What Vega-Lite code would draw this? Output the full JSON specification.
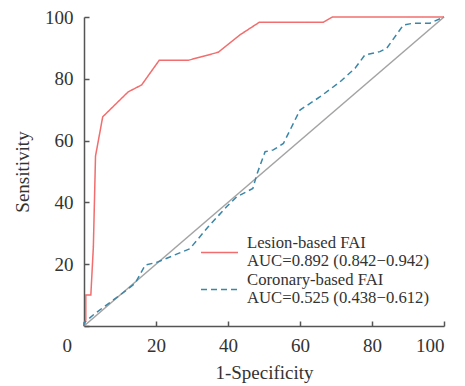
{
  "$schema": "https://vega.github.io/schema/vega-lite/v6.json",
  "width": 360,
  "height": 309,
  "autosize": "none",
  "padding": {"left": 84, "top": 17, "right": 21, "bottom": 60},
  "background": "white",
  "config": {
    "view": {"stroke": null},
    "font": "Liberation Serif, Times New Roman, DejaVu Serif, serif",
    "style": {
      "guide-label": {"font": "Liberation Serif", "fontSize": 19, "fill": "#333333"},
      "guide-title": {"font": "Liberation Serif", "fontSize": 19, "fill": "#333333"}
    },
    "axis": {
      "grid": false,
      "domainColor": "#555555",
      "domainWidth": 1.5,
      "tickColor": "#555555",
      "tickWidth": 1.5,
      "tickSize": -5,
      "labelFont": "Liberation Serif",
      "labelFontSize": 19,
      "labelColor": "#333333",
      "titleFont": "Liberation Serif",
      "titleFontSize": 19,
      "titleFontWeight": "normal",
      "titleColor": "#333333"
    },
    "axisX": {"labelFontSize": 19},
    "axisY": {"labelFontSize": 19},
    "legend": {
      "labelFont": "Liberation Serif"
    }
  },
  "datasets": {
    "roc": [
      {"series": "Lesion-based FAI", "i": 0, "fpr": 0, "tpr": 0},
      {"series": "Lesion-based FAI", "i": 1, "fpr": 0.5, "tpr": 2},
      {"series": "Lesion-based FAI", "i": 2, "fpr": 0.5, "tpr": 10},
      {"series": "Lesion-based FAI", "i": 3, "fpr": 1.9, "tpr": 10},
      {"series": "Lesion-based FAI", "i": 4, "fpr": 2.6, "tpr": 25.6},
      {"series": "Lesion-based FAI", "i": 5, "fpr": 3.2, "tpr": 55},
      {"series": "Lesion-based FAI", "i": 6, "fpr": 5.2, "tpr": 67.7},
      {"series": "Lesion-based FAI", "i": 7, "fpr": 12.3, "tpr": 75.8},
      {"series": "Lesion-based FAI", "i": 8, "fpr": 16, "tpr": 78},
      {"series": "Lesion-based FAI", "i": 9, "fpr": 20.9, "tpr": 86},
      {"series": "Lesion-based FAI", "i": 10, "fpr": 29, "tpr": 86},
      {"series": "Lesion-based FAI", "i": 11, "fpr": 37.3, "tpr": 88.6},
      {"series": "Lesion-based FAI", "i": 12, "fpr": 43.3, "tpr": 94.2},
      {"series": "Lesion-based FAI", "i": 13, "fpr": 48.7, "tpr": 98.3},
      {"series": "Lesion-based FAI", "i": 14, "fpr": 66.5, "tpr": 98.3},
      {"series": "Lesion-based FAI", "i": 15, "fpr": 69, "tpr": 100},
      {"series": "Lesion-based FAI", "i": 16, "fpr": 100, "tpr": 100},
      {"series": "Coronary-based FAI", "i": 0, "fpr": 0, "tpr": 0},
      {"series": "Coronary-based FAI", "i": 1, "fpr": 0, "tpr": 1},
      {"series": "Coronary-based FAI", "i": 2, "fpr": 3, "tpr": 4},
      {"series": "Coronary-based FAI", "i": 3, "fpr": 10, "tpr": 10},
      {"series": "Coronary-based FAI", "i": 4, "fpr": 14.2, "tpr": 13.8},
      {"series": "Coronary-based FAI", "i": 5, "fpr": 17, "tpr": 19.7},
      {"series": "Coronary-based FAI", "i": 6, "fpr": 20.2, "tpr": 20.6},
      {"series": "Coronary-based FAI", "i": 7, "fpr": 29.4, "tpr": 25},
      {"series": "Coronary-based FAI", "i": 8, "fpr": 32.2, "tpr": 28.9},
      {"series": "Coronary-based FAI", "i": 9, "fpr": 34.5, "tpr": 32.1},
      {"series": "Coronary-based FAI", "i": 10, "fpr": 39.6, "tpr": 38.6},
      {"series": "Coronary-based FAI", "i": 11, "fpr": 42.4, "tpr": 41.8},
      {"series": "Coronary-based FAI", "i": 12, "fpr": 46.9, "tpr": 44.5},
      {"series": "Coronary-based FAI", "i": 13, "fpr": 48, "tpr": 49},
      {"series": "Coronary-based FAI", "i": 14, "fpr": 50.3, "tpr": 56.4},
      {"series": "Coronary-based FAI", "i": 15, "fpr": 52.6, "tpr": 57},
      {"series": "Coronary-based FAI", "i": 16, "fpr": 55.4, "tpr": 59.1},
      {"series": "Coronary-based FAI", "i": 17, "fpr": 60, "tpr": 69.9},
      {"series": "Coronary-based FAI", "i": 18, "fpr": 65.6, "tpr": 74.2},
      {"series": "Coronary-based FAI", "i": 19, "fpr": 71.1, "tpr": 79},
      {"series": "Coronary-based FAI", "i": 20, "fpr": 75.3, "tpr": 83.4},
      {"series": "Coronary-based FAI", "i": 21, "fpr": 78, "tpr": 87.7},
      {"series": "Coronary-based FAI", "i": 22, "fpr": 82.2, "tpr": 88.8},
      {"series": "Coronary-based FAI", "i": 23, "fpr": 84.1, "tpr": 89.9},
      {"series": "Coronary-based FAI", "i": 24, "fpr": 88.7, "tpr": 97.4},
      {"series": "Coronary-based FAI", "i": 25, "fpr": 91.5, "tpr": 98},
      {"series": "Coronary-based FAI", "i": 26, "fpr": 96.1, "tpr": 98},
      {"series": "Coronary-based FAI", "i": 27, "fpr": 100, "tpr": 100}
    ],
    "diag": [
      {"fpr": 0, "tpr": 0},
      {"fpr": 100, "tpr": 100}
    ]
  },
  "layer": [
    {
      "data": {"name": "diag"},
      "mark": {"type": "line", "color": "#a3a3a3", "strokeWidth": 1.5},
      "encoding": {
        "x": {"field": "fpr", "type": "quantitative", "scale": {"domain": [0, 100]}},
        "y": {"field": "tpr", "type": "quantitative", "scale": {"domain": [0, 100]}}
      }
    },
    {
      "data": {"name": "roc"},
      "mark": {"type": "line", "strokeWidth": 1.5},
      "encoding": {
        "x": {
          "field": "fpr", "type": "quantitative",
          "scale": {"domain": [0, 100]},
          "title": "1-Specificity",
          "axis": {
            "values": [0, 20, 40, 60, 80, 100],
            "labelFont": "Liberation Serif",
            "labelFontSize": 19,
            "titleFont": "Liberation Serif",
            "titleFontSize": 19,
            "labelPadding": 15,
            "titlePadding": 8,
            "labelOffset": {"condition": {"test": "datum.value === 0", "value": -22}, "value": 0}
          }
        },
        "y": {
          "field": "tpr", "type": "quantitative",
          "scale": {"domain": [0, 100]},
          "title": "Sensitivity",
          "axis": {
            "values": [0, 20, 40, 60, 80, 100],
            "labelFont": "Liberation Serif",
            "labelFontSize": 19,
            "titleFont": "Liberation Serif",
            "titleFontSize": 19,
            "labelPadding": 16,
            "titlePadding": 12,
            "labelExpr": "datum.value === 0 ? '' : datum.label"
          }
        },
        "order": {"field": "i", "type": "quantitative"},
        "color": {
          "field": "series", "type": "nominal",
          "scale": {"domain": ["Lesion-based FAI", "Coronary-based FAI"], "range": ["#f26d6d", "#3a86a8"]},
          "legend": {
            "title": null,
            "orient": "none",
            "legendX": 116,
            "legendY": 216,
            "padding": 0,
            "symbolType": "stroke",
            "symbolSize": 1369,
            "symbolStrokeWidth": 1.5,
            "labelFont": "Liberation Serif",
            "labelFontSize": 16.7,
            "labelColor": "#333333",
            "labelBaseline": "line-bottom",
            "labelOffset": 8,
            "labelLimit": 400,
            "rowPadding": -3,
            "labelExpr": "datum.value === 'Lesion-based FAI' ? ['Lesion-based FAI', 'AUC=0.892 (0.842\u22120.942)'] : ['Coronary-based FAI', 'AUC=0.525 (0.438\u22120.612)']"
          }
        },
        "strokeDash": {
          "field": "series", "type": "nominal",
          "scale": {"domain": ["Lesion-based FAI", "Coronary-based FAI"], "range": [[1, 0], [6, 4]]},
          "legend": null
        }
      }
    }
  ]
}
